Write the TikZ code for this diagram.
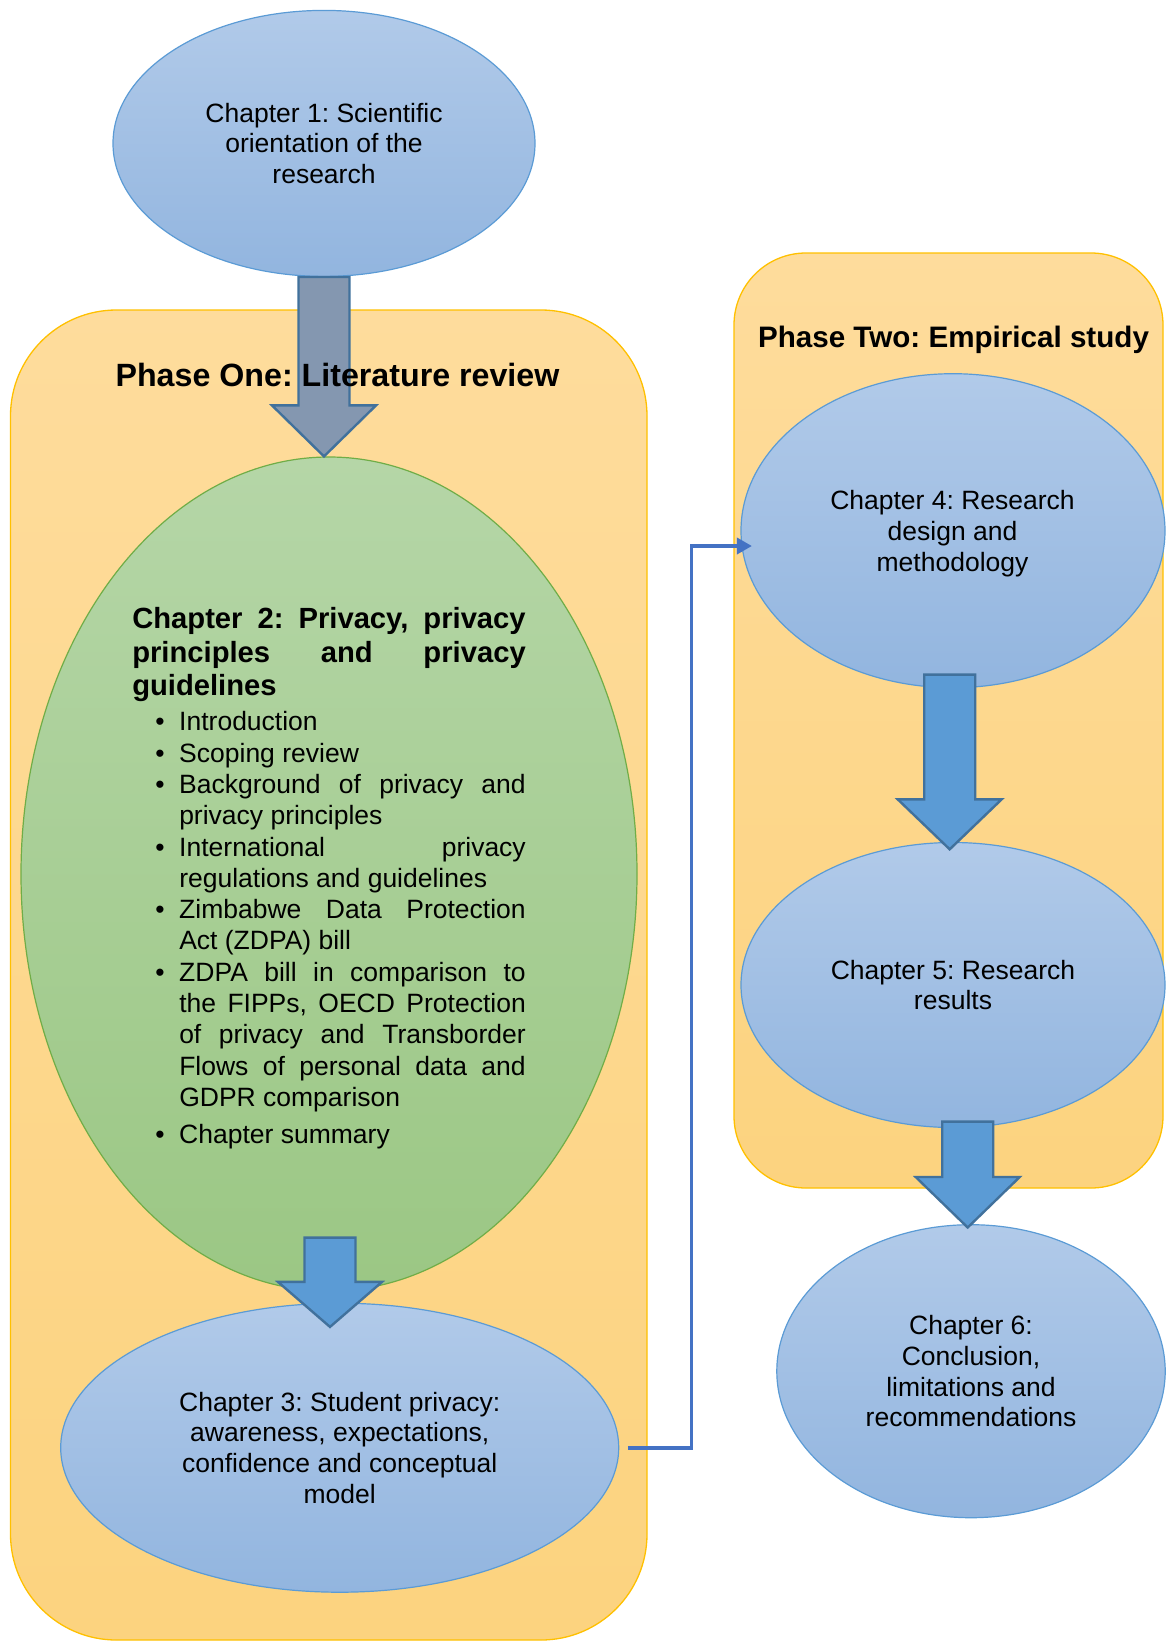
\documentclass[tikz,border=0pt]{standalone}
\usepackage{fontspec}
\setmainfont{Liberation Sans}
\usetikzlibrary{shapes.geometric,calc,arrows.meta}
\frenchspacing

\definecolor{phasetop}{HTML}{FEDC9C}
\definecolor{phasebot}{HTML}{FCD37F}
\definecolor{phaseline}{HTML}{FFC000}
\definecolor{bluetop}{HTML}{B1CAE9}
\definecolor{bluebot}{HTML}{92B5DF}
\definecolor{blueline}{HTML}{5B9BD5}
\definecolor{greentop}{HTML}{B5D6A7}
\definecolor{greenbot}{HTML}{9BC784}
\definecolor{greenline}{HTML}{70AD47}
\definecolor{arrowfill}{HTML}{5B9BD5}
\definecolor{arrowline}{HTML}{41719C}
\definecolor{grayarrow}{HTML}{8497B0}
\definecolor{linkblue}{HTML}{4472C4}

\newcommand\chapfont{\fontsize{26.5}{30.7}\selectfont}
\newcommand\bulletmark{\makebox[47pt][l]{\hspace{23pt}\textbullet}}
\newcommand\bitem[1]{\bulletmark#1}
\newcommand\bjust[1]{\bulletmark\makebox[346.5pt][s]{#1}}
\newcommand\bcont[1]{\hspace*{47pt}#1}

% block arrow pointing down: style, top point, tip point, head length
\newcommand\blockarrow[4]{%
  \path[#1] let \p1=#2, \p2=#3 in
    (\x1-25.5pt,\y1) -- (\x1+25.5pt,\y1) -- (\x1+25.5pt,\y2+#4)
    -- (\x1+52pt,\y2+#4) -- (\x1,\y2) -- (\x1-52pt,\y2+#4)
    -- (\x1-25.5pt,\y2+#4) -- cycle;}

\tikzset{
  phasebox/.style={rectangle, draw=phaseline, line width=1.3pt,
    top color=phasetop, bottom color=phasebot, inner sep=0pt},
  chapter/.style={ellipse, draw=blueline, line width=1.2pt,
    top color=bluetop, bottom color=bluebot, inner sep=0pt,
    align=center, font=\chapfont},
  chaptertext/.style={inner sep=0pt, align=center, font=\chapfont},
  litellipse/.style={ellipse, draw=greenline, line width=1.2pt,
    top color=greentop, bottom color=greenbot, inner sep=0pt},
  phasetitle/.style={inner sep=0pt, font=\bfseries},
  flowarrow/.style={draw=arrowline, fill=arrowfill, line width=2.4pt, line join=miter},
  grayflow/.style={draw=arrowline, fill=grayarrow, line width=2.4pt, line join=miter},
  link/.style={draw=linkblue, line width=3.6pt,
    -{Triangle[length=15pt,width=16pt]}}
}

\begin{document}
\begin{tikzpicture}[x=1pt,y=-1pt]
\useasboundingbox (0,0) rectangle (1165,1641);

% phase containers
\node[phasebox, rounded corners=106pt, minimum width=636.5pt, minimum height=1330pt]
  (phase1) at (328.75,975) {};
\node[phasebox, rounded corners=72pt, minimum width=429pt, minimum height=935pt]
  (phase2) at (948.5,720.5) {};

% chapters
\node[chapter, minimum width=422pt, minimum height=266pt] (ch1) at (324,143.4)
  {Chapter 1: Scientific\\orientation of the\\research};

\node[litellipse, minimum width=616pt, minimum height=834pt] (ch2) at (329,874) {};
\node[inner sep=0pt] (ch2text) at ($(ch2.center)+(0,4.5)$) {%
  \begin{minipage}{393.5pt}
    {\bfseries\fontsize{29.2}{33.5}\selectfont
     \makebox[\linewidth][s]{Chapter 2: Privacy, privacy}\\
     \makebox[\linewidth][s]{principles and privacy}\\
     guidelines\par}
    \vspace{3.6pt}
    {\chapfont\baselineskip=31.3pt
     \bitem{Introduction}\\
     \bitem{Scoping review}\\
     \bjust{Background of privacy and}\\
     \bcont{privacy principles}\\
     \bjust{International privacy}\\
     \bcont{regulations and guidelines}\\
     \bjust{Zimbabwe Data Protection}\\
     \bcont{Act (ZDPA) bill}\\
     \bjust{ZDPA bill in comparison to}\\
     \bcont{\makebox[346.5pt][s]{the FIPPs, OECD Protection}}\\
     \bcont{\makebox[346.5pt][s]{of privacy and Transborder}}\\
     \bcont{\makebox[346.5pt][s]{Flows of personal data and}}\\
     \bcont{GDPR comparison}\par}
    \vspace{6.5pt}
    {\chapfont\bitem{Chapter summary}\par}
  \end{minipage}};

\node[chapter, minimum width=558pt, minimum height=289pt] (ch3) at (339.7,1447.7)
  {Chapter 3: Student privacy:\\awareness, expectations,\\confidence and conceptual\\model};

\node[chapter, minimum width=424pt, minimum height=314pt] (ch4) at (953,530.7) {};
\node[chaptertext] (ch4text) at ($(ch4.center)+(-0.5,3)$)
  {Chapter 4: Research\\design and\\methodology};

\node[chapter, minimum width=424pt, minimum height=285pt] (ch5) at (953,985)
  {Chapter 5: Research\\results};

\node[chapter, minimum width=388.4pt, minimum height=293pt] (ch6) at (971,1371.2)
  {Chapter 6:\\Conclusion,\\limitations and\\recommendations};

% arrow end points
\coordinate (a1s) at (ch1.south);
\coordinate (a1e) at (a1s |- ch2.north);
\coordinate (a2s) at ($(ch2.south)+(1,-54)$);
\coordinate (a2e) at ($(a2s |- ch3.north)+(0,24.3)$);
\coordinate (a3s) at ($(ch4.south)+(-3.3,-13.7)$);
\coordinate (a3e) at ($(a3s |- ch5.north)+(0,7.4)$);
\coordinate (a4s) at ($(ch5.south)+(14.7,-6.5)$);
\coordinate (a4e) at ($(a4s |- ch6.north)+(0,3.4)$);

% block arrows between chapters
\blockarrow{grayflow}{(a1s)}{(a1e)}{51pt}
\blockarrow{flowarrow}{(a2s)}{(a2e)}{45pt}
\blockarrow{flowarrow}{(a3s)}{(a3e)}{50pt}
\blockarrow{flowarrow}{(a4s)}{(a4e)}{50.5pt}

% phase titles
\node[phasetitle, font=\bfseries\fontsize{32.2}{36}\selectfont] (t1) at (337.5,375)
  {Phase One: Literature review};
\node[phasetitle, font=\bfseries\fontsize{29.6}{34}\selectfont] (t2) at (953.5,339.5)
  {Phase Two: Empirical study};

% link from chapter 3 to chapter 4
\draw[link] ($(ch3.east)+(8.5,0)$) -- ++(63.5,0) |- ($(ch4.west)+(11.5,15.3)$);

\end{tikzpicture}
\end{document}
